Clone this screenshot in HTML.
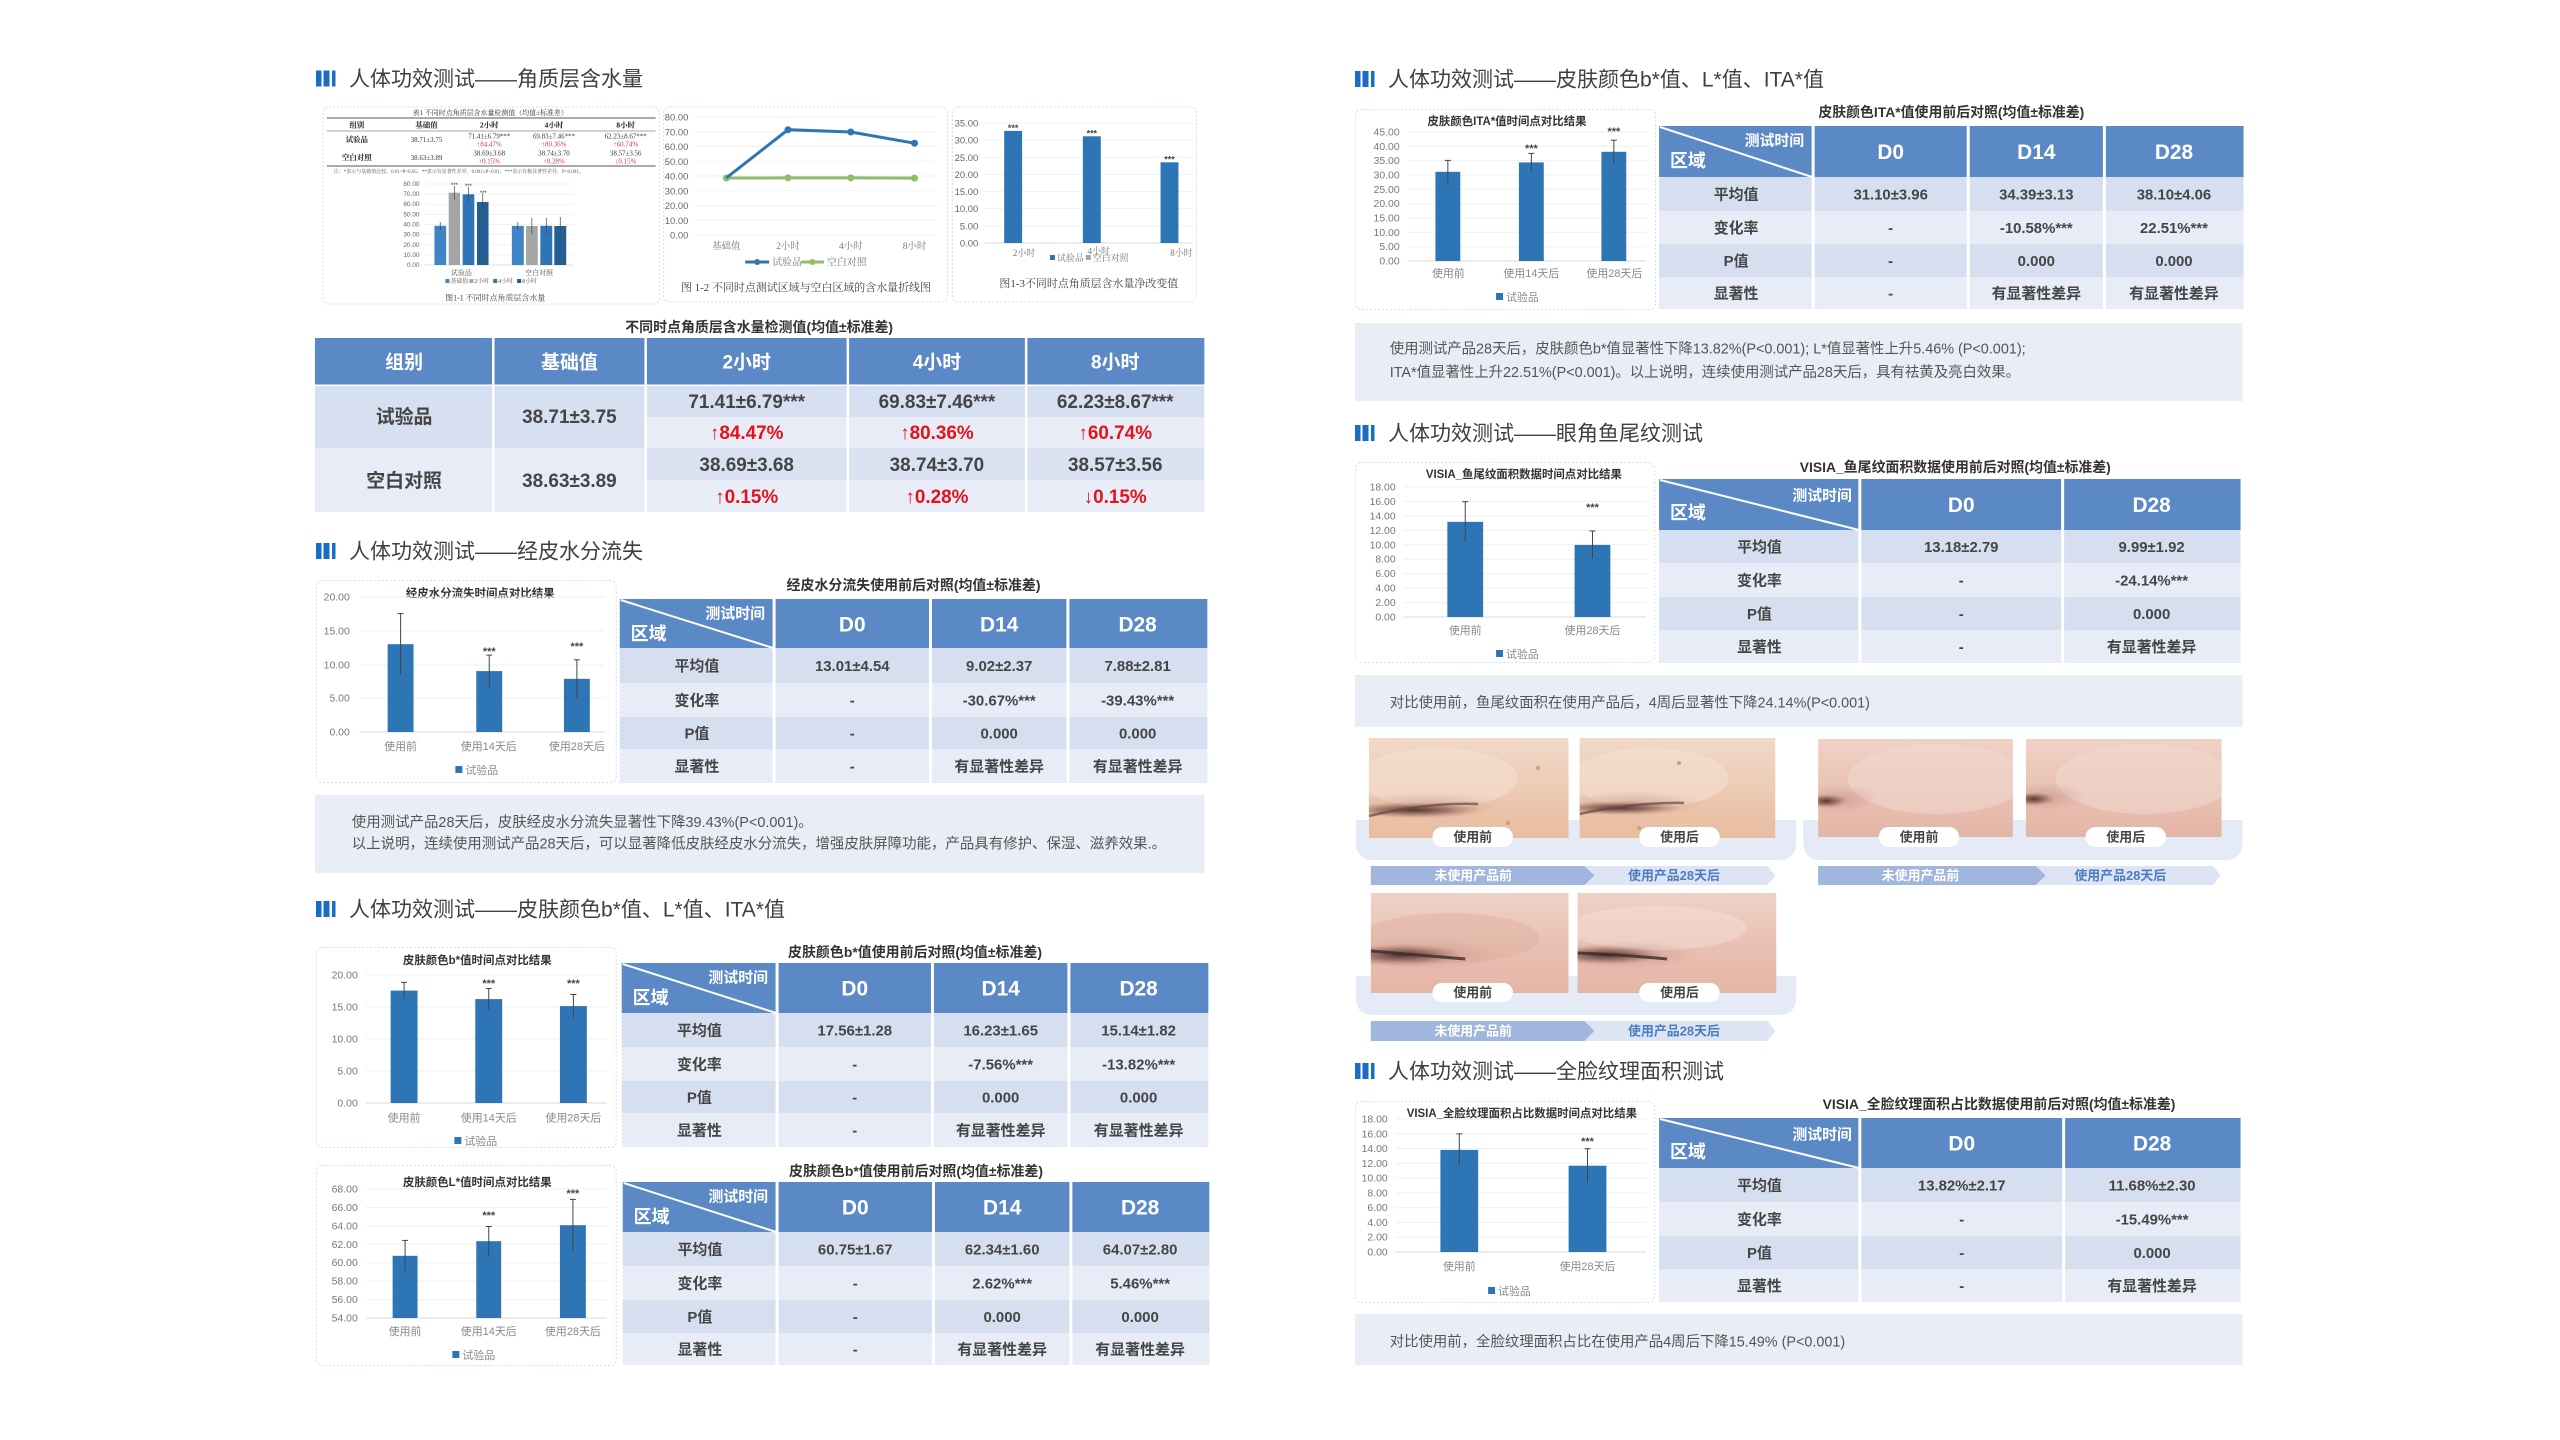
<!DOCTYPE html>
<html><head><meta charset="utf-8"><title>人体功效测试</title>
<style>
html,body{margin:0;padding:0;background:#fff;width:2560px;height:1440px;overflow:hidden}
svg text{font-family:"Liberation Sans","Noto Sans CJK SC",sans-serif}
svg text.sf{font-family:"Liberation Serif","Noto Serif CJK SC","Noto Sans CJK SC",serif}
.ttl{font-size:21px;fill:#3f3f3f}
.cap{font-size:14px;font-weight:bold;fill:#333;text-anchor:middle}
.h1{font-size:19px;font-weight:bold;fill:#fff;text-anchor:middle}
.v1{font-size:19px;font-weight:bold;fill:#454545;text-anchor:middle}
.r1{font-size:19px;font-weight:bold;fill:#e3121b;text-anchor:middle}
.hd{font-size:21px;font-weight:bold;fill:#fff;text-anchor:middle}
.ht{font-size:15px;font-weight:bold;fill:#fff;text-anchor:end}
.hq{font-size:18px;font-weight:bold;fill:#fff}
.c{font-size:15px;font-weight:bold;fill:#454545;text-anchor:middle}
.note{font-size:14.5px;fill:#555}
.ct{font-size:11.5px;font-weight:bold;fill:#333;text-anchor:middle}
.ax{font-size:10.5px;fill:#777;text-anchor:end}
.xl{font-size:11px;fill:#888;text-anchor:middle}
.st{font-size:11px;fill:#444;text-anchor:middle;font-weight:bold}
.lg{font-size:11px;fill:#888}
.pill{font-size:13px;fill:#444;text-anchor:middle;font-weight:bold}
.bn{font-size:13px;font-weight:bold;text-anchor:middle}
.m7{font-size:7px;fill:#333;text-anchor:middle}
.m7b{font-size:7.5px;fill:#222;text-anchor:middle;font-weight:bold}
.m7r{font-size:7px;fill:#d23a4a;text-anchor:middle}
.ax9{font-size:9.5px;fill:#666;text-anchor:end}
.ax6{font-size:6.5px;fill:#666;text-anchor:end}
</style></head>
<body>
<svg width="2560" height="1440" viewBox="0 0 2560 1440" xmlns="http://www.w3.org/2000/svg">
<defs>
<linearGradient id="skA" x1="0" y1="0" x2="0" y2="1"><stop offset="0" stop-color="#f1d9c9"/><stop offset="0.5" stop-color="#edcbb4"/><stop offset="1" stop-color="#e8bca0"/></linearGradient>
<linearGradient id="skB" x1="0" y1="0" x2="0" y2="1"><stop offset="0" stop-color="#efd2c6"/><stop offset="0.5" stop-color="#e9c2b4"/><stop offset="1" stop-color="#e4b5a6"/></linearGradient>
<radialGradient id="eye"><stop offset="0" stop-color="#4a2e2c" stop-opacity="0.95"/><stop offset="0.5" stop-color="#7a5048" stop-opacity="0.6"/><stop offset="1" stop-color="#b88070" stop-opacity="0"/></radialGradient>
<radialGradient id="shade"><stop offset="0" stop-color="#b98a7c" stop-opacity="0.5"/><stop offset="1" stop-color="#b98a7c" stop-opacity="0"/></radialGradient>
</defs>

<!-- ============ TITLES ============ -->
<g fill="#1a6dc2">
<rect x="316" y="70.5" width="5.5" height="16"/><rect x="323.5" y="70.5" width="6" height="16"/><rect x="332" y="70.5" width="3.5" height="16"/>
<rect x="316" y="543" width="5.5" height="16"/><rect x="323.5" y="543" width="6" height="16"/><rect x="332" y="543" width="3.5" height="16"/>
<rect x="316" y="901" width="5.5" height="16"/><rect x="323.5" y="901" width="6" height="16"/><rect x="332" y="901" width="3.5" height="16"/>
<rect x="1355" y="71" width="5.5" height="16"/><rect x="1362.5" y="71" width="6" height="16"/><rect x="1371" y="71" width="3.5" height="16"/>
<rect x="1355" y="425" width="5.5" height="16"/><rect x="1362.5" y="425" width="6" height="16"/><rect x="1371" y="425" width="3.5" height="16"/>
<rect x="1355" y="1063" width="5.5" height="16"/><rect x="1362.5" y="1063" width="6" height="16"/><rect x="1371" y="1063" width="3.5" height="16"/>
</g>
<text class="ttl" x="349" y="86">人体功效测试——角质层含水量</text>
<text class="ttl" x="349" y="558.5">人体功效测试——经皮水分流失</text>
<text class="ttl" x="349" y="916.5">人体功效测试——皮肤颜色b*值、L*值、ITA*值</text>
<text class="ttl" x="1388" y="86.5">人体功效测试——皮肤颜色b*值、L*值、ITA*值</text>
<text class="ttl" x="1388" y="440.5">人体功效测试——眼角鱼尾纹测试</text>
<text class="ttl" x="1388" y="1078.5">人体功效测试——全脸纹理面积测试</text>

<g transform="matrix(0.996 0 0 1 1.2 0)">
<!-- ============ SECTION 1 PANELS ============ -->
<g fill="none" stroke="#cfe0ea" stroke-dasharray="2 2">
<rect x="323" y="107" width="338" height="197" rx="6"/>
<rect x="665" y="107" width="285" height="195" rx="6"/>
<rect x="955" y="107" width="245" height="195" rx="6"/>
</g>
<!-- panel 1 mini table -->
<text class="m7 sf" x="491" y="115">表1 不同时点角质层含水量检测值（均值±标准差）</text>
<line x1="327" y1="118" x2="657" y2="118" stroke="#777" stroke-width="1.3"/>
<line x1="327" y1="131" x2="657" y2="131" stroke="#888" stroke-width="0.8"/>
<line x1="327" y1="166" x2="657" y2="166" stroke="#777" stroke-width="1.3"/>
<text class="m7b sf" x="357" y="127.5">组别</text><text class="m7b sf" x="427" y="127.5">基础值</text><text class="m7b sf" x="490" y="127.5">2小时</text><text class="m7b sf" x="555" y="127.5">4小时</text><text class="m7b sf" x="627" y="127.5">8小时</text>
<text class="m7b sf" x="357" y="142">试验品</text><text class="m7 sf" x="427" y="142">38.71±3.75</text>
<text class="m7 sf" x="490" y="138.5">71.41±6.79***</text><text class="m7r sf" x="490" y="146.5">↑84.47%</text>
<text class="m7 sf" x="555" y="138.5">69.83±7.46***</text><text class="m7r sf" x="555" y="146.5">↑80.36%</text>
<text class="m7 sf" x="627" y="138.5">62.23±8.67***</text><text class="m7r sf" x="627" y="146.5">↑60.74%</text>
<text class="m7b sf" x="357" y="160">空白对照</text><text class="m7 sf" x="427" y="160">38.63±3.89</text>
<text class="m7 sf" x="490" y="155.5">38.69±3.68</text><text class="m7r sf" x="490" y="163.5">↑0.15%</text>
<text class="m7 sf" x="555" y="155.5">38.74±3.70</text><text class="m7r sf" x="555" y="163.5">↑0.28%</text>
<text class="m7 sf" x="627" y="155.5">38.57±3.56</text><text class="m7r sf" x="627" y="163.5">↓0.15%</text>
<text class="sf" x="334" y="173" style="font-size:5px;fill:#555">注：*表示与基础值比较，0.01&lt;P&lt;0.05；**表示有显著性差异，0.001≤P&lt;0.01；***表示有极显著性差异，P&lt;0.001。</text>
<!-- panel 1 mini bar chart -->
<g stroke="#eeeeee" stroke-width="0.7">
<line x1="425" y1="184" x2="575" y2="184"/><line x1="425" y1="194.1" x2="575" y2="194.1"/><line x1="425" y1="204.3" x2="575" y2="204.3"/><line x1="425" y1="214.4" x2="575" y2="214.4"/><line x1="425" y1="224.5" x2="575" y2="224.5"/><line x1="425" y1="234.6" x2="575" y2="234.6"/><line x1="425" y1="244.8" x2="575" y2="244.8"/><line x1="425" y1="254.9" x2="575" y2="254.9"/>
</g>
<line x1="425" y1="265" x2="575" y2="265" stroke="#d9d9d9" stroke-width="0.8"/>
<text class="ax6" x="420" y="186">80.00</text><text class="ax6" x="420" y="196">70.00</text><text class="ax6" x="420" y="206">60.00</text><text class="ax6" x="420" y="216.5">50.00</text><text class="ax6" x="420" y="226.5">40.00</text><text class="ax6" x="420" y="236.5">30.00</text><text class="ax6" x="420" y="247">20.00</text><text class="ax6" x="420" y="257">10.00</text><text class="ax6" x="420" y="267">0.00</text>
<rect x="435" y="225.8" width="11.7" height="39.2" fill="#3d85c6"/>
<rect x="449.3" y="192.7" width="11.4" height="72.3" fill="#a5a5a5"/>
<rect x="463.3" y="194.3" width="11.7" height="70.7" fill="#2e75b6"/>
<rect x="477.7" y="202" width="11.6" height="63" fill="#255e91"/>
<rect x="512.7" y="225.9" width="12" height="39.1" fill="#3d85c6"/>
<rect x="527" y="226" width="11.7" height="39" fill="#a5a5a5"/>
<rect x="541.3" y="225.8" width="12" height="39.2" fill="#2e75b6"/>
<rect x="555.3" y="226" width="12" height="39" fill="#255e91"/>
<g stroke="#444" stroke-width="0.7">
<line x1="440.8" y1="222" x2="440.8" y2="230"/><line x1="455" y1="186" x2="455" y2="199.5"/><line x1="469" y1="186.8" x2="469" y2="201.8"/><line x1="483.5" y1="193.2" x2="483.5" y2="210.8"/>
<line x1="518.7" y1="222" x2="518.7" y2="230"/><line x1="532.8" y1="218" x2="532.8" y2="234"/><line x1="547.3" y1="218" x2="547.3" y2="234"/><line x1="561.3" y1="217" x2="561.3" y2="235"/>
</g>
<text x="455" y="187" style="font-size:6px;fill:#333;text-anchor:middle">***</text><text x="469" y="188" style="font-size:6px;fill:#333;text-anchor:middle">***</text><text x="484" y="195" style="font-size:6px;fill:#333;text-anchor:middle">***</text>
<text class="m7 sf" x="462" y="275" style="fill:#555">试验品</text><text class="m7 sf" x="540" y="275" style="fill:#555">空白对照</text>
<rect x="446" y="279" width="4" height="4" fill="#3d85c6"/><text class="sf" x="451" y="283" style="font-size:6px;fill:#555">基础值</text>
<rect x="470" y="279" width="4" height="4" fill="#a5a5a5"/><text class="sf" x="475" y="283" style="font-size:6px;fill:#555">2小时</text>
<rect x="494" y="279" width="4" height="4" fill="#2e75b6"/><text class="sf" x="499" y="283" style="font-size:6px;fill:#555">4小时</text>
<rect x="518" y="279" width="4" height="4" fill="#255e91"/><text class="sf" x="523" y="283" style="font-size:6px;fill:#555">8小时</text>
<text class="sf" x="496" y="300.5" style="font-size:8px;fill:#444;text-anchor:middle">图1-1 不同时点角质层含水量</text>

<!-- panel 2 line chart -->
<g stroke="#eeeeee" stroke-width="0.8">
<line x1="695" y1="117" x2="939" y2="117"/><line x1="695" y1="131.75" x2="939" y2="131.75"/><line x1="695" y1="146.5" x2="939" y2="146.5"/><line x1="695" y1="161.25" x2="939" y2="161.25"/><line x1="695" y1="176" x2="939" y2="176"/><line x1="695" y1="190.75" x2="939" y2="190.75"/><line x1="695" y1="205.5" x2="939" y2="205.5"/><line x1="695" y1="220.25" x2="939" y2="220.25"/><line x1="695" y1="235" x2="939" y2="235"/>
</g>
<text class="ax9" x="690" y="120.5">80.00</text><text class="ax9" x="690" y="135.3">70.00</text><text class="ax9" x="690" y="150">60.00</text><text class="ax9" x="690" y="164.8">50.00</text><text class="ax9" x="690" y="179.5">40.00</text><text class="ax9" x="690" y="194.3">30.00</text><text class="ax9" x="690" y="209">20.00</text><text class="ax9" x="690" y="223.8">10.00</text><text class="ax9" x="690" y="238.5">0.00</text>
<polyline points="728,178 790,177.9 853,177.9 917,178.1" fill="none" stroke="#8fbd6a" stroke-width="3"/>
<g fill="#8fbd6a"><circle cx="728" cy="178" r="3.5"/><circle cx="790" cy="177.9" r="3.5"/><circle cx="853" cy="177.9" r="3.5"/><circle cx="917" cy="178.1" r="3.5"/></g>
<polyline points="728,177.9 790,129.7 853,132 917,143.2" fill="none" stroke="#2e75b6" stroke-width="3"/>
<g fill="#2e75b6"><circle cx="790" cy="129.7" r="3.5"/><circle cx="853" cy="132" r="3.5"/><circle cx="917" cy="143.2" r="3.5"/></g>
<g style="font-size:9.5px;fill:#777">
<text class="sf" x="728" y="249" style="text-anchor:middle">基础值</text><text class="sf" x="790" y="249" style="text-anchor:middle">2小时</text><text class="sf" x="853" y="249" style="text-anchor:middle">4小时</text><text class="sf" x="917" y="249" style="text-anchor:middle">8小时</text>
</g>
<line x1="747" y1="262" x2="771" y2="262" stroke="#2e75b6" stroke-width="3"/><circle cx="759" cy="262" r="3" fill="#2e75b6"/>
<text class="sf" x="774" y="265.5" style="font-size:10px;fill:#777">试验品</text>
<line x1="803" y1="262" x2="826" y2="262" stroke="#8fbd6a" stroke-width="3"/><circle cx="814.5" cy="262" r="3" fill="#8fbd6a"/>
<text class="sf" x="829" y="265.5" style="font-size:10px;fill:#777">空白对照</text>
<text class="sf" x="808" y="291" style="font-size:11px;fill:#444;text-anchor:middle">图 1-2  不同时点测试区域与空白区域的含水量折线图</text>

<!-- panel 3 bar chart -->
<g stroke="#eeeeee" stroke-width="0.8">
<line x1="986" y1="123" x2="1196" y2="123"/><line x1="986" y1="140.1" x2="1196" y2="140.1"/><line x1="986" y1="157.3" x2="1196" y2="157.3"/><line x1="986" y1="174.4" x2="1196" y2="174.4"/><line x1="986" y1="191.6" x2="1196" y2="191.6"/><line x1="986" y1="208.7" x2="1196" y2="208.7"/><line x1="986" y1="225.9" x2="1196" y2="225.9"/>
</g>
<line x1="986" y1="243" x2="1196" y2="243" stroke="#d9d9d9"/>
<text class="ax9" x="981" y="126.5">35.00</text><text class="ax9" x="981" y="143.6">30.00</text><text class="ax9" x="981" y="160.8">25.00</text><text class="ax9" x="981" y="177.9">20.00</text><text class="ax9" x="981" y="195.1">15.00</text><text class="ax9" x="981" y="212.2">10.00</text><text class="ax9" x="981" y="229.4">5.00</text><text class="ax9" x="981" y="246.5">0.00</text>
<rect x="1007" y="130.9" width="18" height="112.1" fill="#2e75b6"/>
<rect x="1086" y="136.3" width="18" height="106.7" fill="#2e75b6"/>
<rect x="1164" y="162.3" width="18" height="80.7" fill="#2e75b6"/>
<text class="st" x="1016" y="131" style="font-size:9px">***</text><text class="st" x="1095" y="136.5" style="font-size:9px">***</text><text class="st" x="1173" y="162.5" style="font-size:9px">***</text>
<text class="sf" x="1027" y="256" style="font-size:9px;fill:#777;text-anchor:middle">2小时</text>
<text class="sf" x="1102" y="254" style="font-size:9px;fill:#777;text-anchor:middle">4小时</text>
<text class="sf" x="1185" y="256" style="font-size:9px;fill:#777;text-anchor:middle">8小时</text>
<rect x="1053" y="255" width="5" height="5" fill="#2e75b6"/><text class="sf" x="1060" y="261" style="font-size:9px;fill:#777">试验品</text>
<rect x="1089" y="255" width="5" height="5" fill="#a5a5a5"/><text class="sf" x="1096" y="261" style="font-size:9px;fill:#777">空白对照</text>
<text class="sf" x="1092" y="287" style="font-size:11px;fill:#444;text-anchor:middle">图1-3不同时点角质层含水量净改变值</text>

<!-- ============ TABLE 1 ============ -->
<text class="cap" x="761" y="332">不同时点角质层含水量检测值(均值±标准差)</text>
<rect x="315" y="338" width="893" height="47" fill="#5b89c6"/>
<rect x="315" y="385" width="332" height="63" fill="#d7e0f0"/>
<rect x="315" y="448" width="332" height="64" fill="#e7ecf6"/>
<rect x="647" y="385" width="561" height="32" fill="#d7e0f0"/>
<rect x="647" y="417" width="561" height="31" fill="#e8ecf6"/>
<rect x="647" y="448" width="561" height="32" fill="#dae2f1"/>
<rect x="647" y="480" width="561" height="32" fill="#e9edf7"/>
<rect x="315" y="384.5" width="893" height="1.5" fill="#fff"/>
<g fill="#fff"><rect x="492.8" y="338" width="2.5" height="174"/><rect x="645.8" y="338" width="2.5" height="174"/><rect x="848.8" y="338" width="2.5" height="174"/><rect x="1027.8" y="338" width="2.5" height="174"/></g>
<text class="h1" x="404.5" y="368.5">组别</text><text class="h1" x="570.5" y="368.5">基础值</text><text class="h1" x="748.5" y="368.5">2小时</text><text class="h1" x="939.5" y="368.5">4小时</text><text class="h1" x="1118.5" y="368.5">8小时</text>
<text class="v1" x="404.5" y="423">试验品</text><text class="v1" x="570.5" y="423">38.71±3.75</text>
<text class="v1" x="404.5" y="487">空白对照</text><text class="v1" x="570.5" y="487">38.63±3.89</text>
<text class="v1" x="748.5" y="408">71.41±6.79***</text><text class="r1" x="748.5" y="439">↑84.47%</text><text class="v1" x="748.5" y="471">38.69±3.68</text><text class="r1" x="748.5" y="503">↑0.15%</text>
<text class="v1" x="939.5" y="408">69.83±7.46***</text><text class="r1" x="939.5" y="439">↑80.36%</text><text class="v1" x="939.5" y="471">38.74±3.70</text><text class="r1" x="939.5" y="503">↑0.28%</text>
<text class="v1" x="1118.5" y="408">62.23±8.67***</text><text class="r1" x="1118.5" y="439">↑60.74%</text><text class="v1" x="1118.5" y="471">38.57±3.56</text><text class="r1" x="1118.5" y="503">↓0.15%</text>

<!-- ============ SECTION 2 CHART ============ -->
<rect x="316.5" y="580.5" width="301" height="202" rx="6" fill="none" stroke="#cfe0ea" stroke-dasharray="2 2"/>
<text class="ct" x="481" y="597">经皮水分流失时间点对比结果</text>
<g stroke="#efefef"><line x1="360" y1="597" x2="606" y2="597"/><line x1="360" y1="631" x2="606" y2="631"/><line x1="360" y1="665" x2="606" y2="665"/><line x1="360" y1="698" x2="606" y2="698"/></g>
<line x1="360" y1="732" x2="606" y2="732" stroke="#d9d9d9"/>
<text class="ax" x="350" y="600.5">20.00</text><text class="ax" x="350" y="634.5">15.00</text><text class="ax" x="350" y="668.5">10.00</text><text class="ax" x="350" y="701.5">5.00</text><text class="ax" x="350" y="735.5">0.00</text>
<g fill="#2e75b6"><rect x="388" y="644.2" width="26" height="87.8"/><rect x="477" y="671.1" width="26" height="60.9"/><rect x="565" y="678.8" width="26" height="53.2"/></g>
<g stroke="#444" stroke-width="1"><line x1="401" y1="613.6" x2="401" y2="674.8"/><line x1="398" y1="613.6" x2="404" y2="613.6"/><line x1="490" y1="655.1" x2="490" y2="687.1"/><line x1="487" y1="655.1" x2="493" y2="655.1"/><line x1="578" y1="659.8" x2="578" y2="697.8"/><line x1="575" y1="659.8" x2="581" y2="659.8"/></g>
<text class="st" x="490" y="655">***</text><text class="st" x="578" y="650">***</text>
<text class="xl" x="401" y="750">使用前</text><text class="xl" x="489.5" y="750">使用14天后</text><text class="xl" x="578" y="750">使用28天后</text>
<rect x="456" y="766" width="7" height="7" fill="#2e75b6"/><text class="lg" x="466" y="774">试验品</text>

<!-- ============ TABLE L2 ============ -->
<text class="cap" x="916" y="590">经皮水分流失使用前后对照(均值±标准差)</text>
<rect x="621" y="599" width="590" height="49" fill="#5b89c6"/>
<rect x="621" y="648" width="590" height="35" fill="#d6dff0"/><rect x="621" y="683" width="590" height="34" fill="#e8ecf6"/><rect x="621" y="717" width="590" height="32" fill="#d6dff0"/><rect x="621" y="749" width="590" height="34" fill="#e8ecf6"/>
<g fill="#fff"><rect x="774.5" y="599" width="3" height="184"/><rect x="931.5" y="599" width="3" height="184"/><rect x="1069.5" y="599" width="3" height="184"/></g>
<line x1="622" y1="600" x2="775" y2="648" stroke="#fff" stroke-width="2"/>
<text class="ht" x="767" y="618.5">测试时间</text><text class="hq" x="632" y="640">区域</text>
<text class="hd" x="854.5" y="631.5">D0</text><text class="hd" x="1002" y="631.5">D14</text><text class="hd" x="1141" y="631.5">D28</text>
<text class="c" x="698.5" y="671">平均值</text><text class="c" x="854.5" y="671">13.01±4.54</text><text class="c" x="1002" y="671">9.02±2.37</text><text class="c" x="1141" y="671">7.88±2.81</text>
<text class="c" x="698.5" y="705.5">变化率</text><text class="c" x="854.5" y="705.5">-</text><text class="c" x="1002" y="705.5">-30.67%***</text><text class="c" x="1141" y="705.5">-39.43%***</text>
<text class="c" x="698.5" y="738.5">P值</text><text class="c" x="854.5" y="738.5">-</text><text class="c" x="1002" y="738.5">0.000</text><text class="c" x="1141" y="738.5">0.000</text>
<text class="c" x="698.5" y="771.5">显著性</text><text class="c" x="854.5" y="771.5">-</text><text class="c" x="1002" y="771.5">有显著性差异</text><text class="c" x="1141" y="771.5">有显著性差异</text>

<!-- note L2 -->
<rect x="315" y="795" width="893" height="78" fill="#e9edf6"/>
<text class="note" x="352" y="827">使用测试产品28天后，皮肤经皮水分流失显著性下降39.43%(P&lt;0.001)。</text>
<text class="note" x="352" y="848.5">以上说明，连续使用测试产品28天后，可以显著降低皮肤经皮水分流失，增强皮肤屏障功能，产品具有修护、保湿、滋养效果.。</text>

<!-- ============ SECTION 3: b* chart ============ -->
<rect x="316.5" y="947.5" width="301" height="200" rx="6" fill="none" stroke="#cfe0ea" stroke-dasharray="2 2"/>
<text class="ct" x="478" y="964">皮肤颜色b*值时间点对比结果</text>
<g stroke="#efefef"><line x1="366" y1="975" x2="608" y2="975"/><line x1="366" y1="1007" x2="608" y2="1007"/><line x1="366" y1="1039" x2="608" y2="1039"/><line x1="366" y1="1071" x2="608" y2="1071"/></g>
<line x1="366" y1="1103" x2="608" y2="1103" stroke="#d9d9d9"/>
<text class="ax" x="358" y="978.5">20.00</text><text class="ax" x="358" y="1010.5">15.00</text><text class="ax" x="358" y="1042.5">10.00</text><text class="ax" x="358" y="1074.5">5.00</text><text class="ax" x="358" y="1106.5">0.00</text>
<g fill="#2e75b6"><rect x="391" y="990.6" width="27" height="112.4"/><rect x="476" y="999.1" width="27" height="103.9"/><rect x="561" y="1006.1" width="27" height="96.9"/></g>
<g stroke="#444" stroke-width="1"><line x1="404.5" y1="982.4" x2="404.5" y2="998.8"/><line x1="401.5" y1="982.4" x2="407.5" y2="982.4"/><line x1="489.5" y1="988.5" x2="489.5" y2="1009.7"/><line x1="486.5" y1="988.5" x2="492.5" y2="988.5"/><line x1="574.5" y1="994.5" x2="574.5" y2="1017.7"/><line x1="571.5" y1="994.5" x2="577.5" y2="994.5"/></g>
<text class="st" x="489.5" y="987">***</text><text class="st" x="574.5" y="987">***</text>
<text class="xl" x="404.5" y="1121.5">使用前</text><text class="xl" x="489.5" y="1121.5">使用14天后</text><text class="xl" x="574.5" y="1121.5">使用28天后</text>
<rect x="455" y="1137" width="7" height="7" fill="#2e75b6"/><text class="lg" x="465" y="1145">试验品</text>

<!-- TABLE L3a -->
<text class="cap" x="917.5" y="957">皮肤颜色b*值使用前后对照(均值±标准差)</text>
<rect x="623" y="963" width="589" height="50" fill="#5b89c6"/>
<rect x="623" y="1013" width="589" height="34" fill="#d6dff0"/><rect x="623" y="1047" width="589" height="34" fill="#e8ecf6"/><rect x="623" y="1081" width="589" height="32" fill="#d6dff0"/><rect x="623" y="1113" width="589" height="34" fill="#e8ecf6"/>
<g fill="#fff"><rect x="777.5" y="963" width="3" height="184"/><rect x="933.5" y="963" width="3" height="184"/><rect x="1070.5" y="963" width="3" height="184"/></g>
<line x1="624" y1="964" x2="778" y2="1013" stroke="#fff" stroke-width="2"/>
<text class="ht" x="770" y="982.5">测试时间</text><text class="hq" x="634" y="1004">区域</text>
<text class="hd" x="857" y="995.5">D0</text><text class="hd" x="1003.5" y="995.5">D14</text><text class="hd" x="1142" y="995.5">D28</text>
<text class="c" x="701" y="1035.5">平均值</text><text class="c" x="857" y="1035.5">17.56±1.28</text><text class="c" x="1003.5" y="1035.5">16.23±1.65</text><text class="c" x="1142" y="1035.5">15.14±1.82</text>
<text class="c" x="701" y="1069.5">变化率</text><text class="c" x="857" y="1069.5">-</text><text class="c" x="1003.5" y="1069.5">-7.56%***</text><text class="c" x="1142" y="1069.5">-13.82%***</text>
<text class="c" x="701" y="1102.5">P值</text><text class="c" x="857" y="1102.5">-</text><text class="c" x="1003.5" y="1102.5">0.000</text><text class="c" x="1142" y="1102.5">0.000</text>
<text class="c" x="701" y="1135.5">显著性</text><text class="c" x="857" y="1135.5">-</text><text class="c" x="1003.5" y="1135.5">有显著性差异</text><text class="c" x="1142" y="1135.5">有显著性差异</text>

<!-- L* chart -->
<rect x="316.5" y="1165.5" width="301" height="200" rx="6" fill="none" stroke="#cfe0ea" stroke-dasharray="2 2"/>
<text class="ct" x="478" y="1186">皮肤颜色L*值时间点对比结果</text>
<g stroke="#efefef"><line x1="366" y1="1189" x2="608" y2="1189"/><line x1="366" y1="1207.4" x2="608" y2="1207.4"/><line x1="366" y1="1225.9" x2="608" y2="1225.9"/><line x1="366" y1="1244.3" x2="608" y2="1244.3"/><line x1="366" y1="1262.7" x2="608" y2="1262.7"/><line x1="366" y1="1281.1" x2="608" y2="1281.1"/><line x1="366" y1="1299.6" x2="608" y2="1299.6"/></g>
<line x1="366" y1="1318" x2="608" y2="1318" stroke="#d9d9d9"/>
<text class="ax" x="358" y="1192.5">68.00</text><text class="ax" x="358" y="1211">66.00</text><text class="ax" x="358" y="1229.4">64.00</text><text class="ax" x="358" y="1247.8">62.00</text><text class="ax" x="358" y="1266.2">60.00</text><text class="ax" x="358" y="1284.6">58.00</text><text class="ax" x="358" y="1303.1">56.00</text><text class="ax" x="358" y="1321.5">54.00</text>
<g fill="#2e75b6"><rect x="393" y="1255.8" width="25" height="62.2"/><rect x="477" y="1241.2" width="25" height="76.8"/><rect x="561" y="1225.2" width="26" height="92.8"/></g>
<g stroke="#444" stroke-width="1"><line x1="405.5" y1="1240.4" x2="405.5" y2="1271.2"/><line x1="402.5" y1="1240.4" x2="408.5" y2="1240.4"/><line x1="489.5" y1="1226.5" x2="489.5" y2="1255.9"/><line x1="486.5" y1="1226.5" x2="492.5" y2="1226.5"/><line x1="574" y1="1199.4" x2="574" y2="1251"/><line x1="571" y1="1199.4" x2="577" y2="1199.4"/></g>
<text class="st" x="489.5" y="1219">***</text><text class="st" x="574" y="1197">***</text>
<text class="xl" x="405.5" y="1335">使用前</text><text class="xl" x="489.5" y="1335">使用14天后</text><text class="xl" x="574" y="1335">使用28天后</text>
<rect x="453" y="1351" width="7" height="7" fill="#2e75b6"/><text class="lg" x="463" y="1359">试验品</text>

<!-- TABLE L3b -->
<text class="cap" x="918.5" y="1176">皮肤颜色b*值使用前后对照(均值±标准差)</text>
<rect x="624" y="1182" width="589" height="50" fill="#5b89c6"/>
<rect x="624" y="1232" width="589" height="34" fill="#d6dff0"/><rect x="624" y="1266" width="589" height="34" fill="#e8ecf6"/><rect x="624" y="1300" width="589" height="33" fill="#d6dff0"/><rect x="624" y="1333" width="589" height="32" fill="#e8ecf6"/>
<g fill="#fff"><rect x="777.5" y="1182" width="3" height="183"/><rect x="934.5" y="1182" width="3" height="183"/><rect x="1072.5" y="1182" width="3" height="183"/></g>
<line x1="625" y1="1183" x2="778" y2="1232" stroke="#fff" stroke-width="2"/>
<text class="ht" x="770" y="1201.5">测试时间</text><text class="hq" x="635" y="1223">区域</text>
<text class="hd" x="857.5" y="1214.5">D0</text><text class="hd" x="1005" y="1214.5">D14</text><text class="hd" x="1143.5" y="1214.5">D28</text>
<text class="c" x="701.5" y="1254.5">平均值</text><text class="c" x="857.5" y="1254.5">60.75±1.67</text><text class="c" x="1005" y="1254.5">62.34±1.60</text><text class="c" x="1143.5" y="1254.5">64.07±2.80</text>
<text class="c" x="701.5" y="1288.5">变化率</text><text class="c" x="857.5" y="1288.5">-</text><text class="c" x="1005" y="1288.5">2.62%***</text><text class="c" x="1143.5" y="1288.5">5.46%***</text>
<text class="c" x="701.5" y="1322">P值</text><text class="c" x="857.5" y="1322">-</text><text class="c" x="1005" y="1322">0.000</text><text class="c" x="1143.5" y="1322">0.000</text>
<text class="c" x="701.5" y="1354.5">显著性</text><text class="c" x="857.5" y="1354.5">-</text><text class="c" x="1005" y="1354.5">有显著性差异</text><text class="c" x="1143.5" y="1354.5">有显著性差异</text>
</g>

<g transform="matrix(0.994 0 0 1 8.04 0)">
<!-- ============ RIGHT: ITA chart ============ -->
<rect x="1355.5" y="109.5" width="302" height="200" rx="6" fill="none" stroke="#cfe0ea" stroke-dasharray="2 2"/>
<text class="ct" x="1508" y="125">皮肤颜色ITA*值时间点对比结果</text>
<g stroke="#efefef"><line x1="1408" y1="132" x2="1648" y2="132"/><line x1="1408" y1="146.3" x2="1648" y2="146.3"/><line x1="1408" y1="160.7" x2="1648" y2="160.7"/><line x1="1408" y1="175" x2="1648" y2="175"/><line x1="1408" y1="189.3" x2="1648" y2="189.3"/><line x1="1408" y1="203.7" x2="1648" y2="203.7"/><line x1="1408" y1="218" x2="1648" y2="218"/><line x1="1408" y1="232.3" x2="1648" y2="232.3"/><line x1="1408" y1="246.7" x2="1648" y2="246.7"/></g>
<line x1="1408" y1="261" x2="1648" y2="261" stroke="#d9d9d9"/>
<text class="ax" x="1400" y="135.5">45.00</text><text class="ax" x="1400" y="149.8">40.00</text><text class="ax" x="1400" y="164.2">35.00</text><text class="ax" x="1400" y="178.5">30.00</text><text class="ax" x="1400" y="192.8">25.00</text><text class="ax" x="1400" y="207.2">20.00</text><text class="ax" x="1400" y="221.5">15.00</text><text class="ax" x="1400" y="235.8">10.00</text><text class="ax" x="1400" y="250.2">5.00</text><text class="ax" x="1400" y="264.5">0.00</text>
<g fill="#2e75b6"><rect x="1436" y="171.8" width="25" height="89.2"/><rect x="1520" y="162.4" width="25" height="98.6"/><rect x="1603" y="151.8" width="25" height="109.2"/></g>
<g stroke="#444" stroke-width="1"><line x1="1448.5" y1="160.4" x2="1448.5" y2="183.2"/><line x1="1445.5" y1="160.4" x2="1451.5" y2="160.4"/><line x1="1532.5" y1="153.4" x2="1532.5" y2="171.4"/><line x1="1529.5" y1="153.4" x2="1535.5" y2="153.4"/><line x1="1615.5" y1="140.2" x2="1615.5" y2="163.4"/><line x1="1612.5" y1="140.2" x2="1618.5" y2="140.2"/></g>
<text class="st" x="1532.5" y="152">***</text><text class="st" x="1615.5" y="135">***</text>
<text class="xl" x="1449" y="277">使用前</text><text class="xl" x="1532.5" y="277">使用14天后</text><text class="xl" x="1616" y="277">使用28天后</text>
<rect x="1497" y="293" width="7" height="7" fill="#2e75b6"/><text class="lg" x="1507" y="301">试验品</text>

<!-- TABLE R1 -->
<text class="cap" x="1955" y="117">皮肤颜色ITA*值使用前后对照(均值±标准差)</text>
<rect x="1661" y="126" width="588" height="51" fill="#5b89c6"/>
<rect x="1661" y="177" width="588" height="34" fill="#d6dff0"/><rect x="1661" y="211" width="588" height="33" fill="#e8ecf6"/><rect x="1661" y="244" width="588" height="33" fill="#d6dff0"/><rect x="1661" y="277" width="588" height="32" fill="#e8ecf6"/>
<g fill="#fff"><rect x="1814.5" y="126" width="3" height="183"/><rect x="1970.5" y="126" width="3" height="183"/><rect x="2107.5" y="126" width="3" height="183"/></g>
<line x1="1662" y1="127" x2="1815" y2="177" stroke="#fff" stroke-width="2"/>
<text class="ht" x="1807" y="145.5">测试时间</text><text class="hq" x="1672" y="167">区域</text>
<text class="hd" x="1894" y="159">D0</text><text class="hd" x="2040.5" y="159">D14</text><text class="hd" x="2179" y="159">D28</text>
<text class="c" x="1738.5" y="199.5">平均值</text><text class="c" x="1894" y="199.5">31.10±3.96</text><text class="c" x="2040.5" y="199.5">34.39±3.13</text><text class="c" x="2179" y="199.5">38.10±4.06</text>
<text class="c" x="1738.5" y="233">变化率</text><text class="c" x="1894" y="233">-</text><text class="c" x="2040.5" y="233">-10.58%***</text><text class="c" x="2179" y="233">22.51%***</text>
<text class="c" x="1738.5" y="266">P值</text><text class="c" x="1894" y="266">-</text><text class="c" x="2040.5" y="266">0.000</text><text class="c" x="2179" y="266">0.000</text>
<text class="c" x="1738.5" y="298.5">显著性</text><text class="c" x="1894" y="298.5">-</text><text class="c" x="2040.5" y="298.5">有显著性差异</text><text class="c" x="2179" y="298.5">有显著性差异</text>

<!-- note R1 -->
<rect x="1355" y="323" width="893" height="78" fill="#e9edf6"/>
<text class="note" x="1390" y="353.5">使用测试产品28天后，皮肤颜色b*值显著性下降13.82%(P&lt;0.001); L*值显著性上升5.46% (P&lt;0.001);</text>
<text class="note" x="1390" y="377">ITA*值显著性上升22.51%(P&lt;0.001)。以上说明，连续使用测试产品28天后，具有祛黄及亮白效果。</text>

<!-- ============ 鱼尾纹 chart ============ -->
<rect x="1355.5" y="462.5" width="301" height="200" rx="6" fill="none" stroke="#cfe0ea" stroke-dasharray="2 2"/>
<text class="ct" x="1525" y="478">VISIA_鱼尾纹面积数据时间点对比结果</text>
<g stroke="#efefef"><line x1="1404" y1="487" x2="1648" y2="487"/><line x1="1404" y1="501.4" x2="1648" y2="501.4"/><line x1="1404" y1="515.9" x2="1648" y2="515.9"/><line x1="1404" y1="530.3" x2="1648" y2="530.3"/><line x1="1404" y1="544.8" x2="1648" y2="544.8"/><line x1="1404" y1="559.2" x2="1648" y2="559.2"/><line x1="1404" y1="573.7" x2="1648" y2="573.7"/><line x1="1404" y1="588.1" x2="1648" y2="588.1"/><line x1="1404" y1="602.6" x2="1648" y2="602.6"/></g>
<line x1="1404" y1="617" x2="1648" y2="617" stroke="#d9d9d9"/>
<text class="ax" x="1396" y="490.5">18.00</text><text class="ax" x="1396" y="505">16.00</text><text class="ax" x="1396" y="519.4">14.00</text><text class="ax" x="1396" y="533.8">12.00</text><text class="ax" x="1396" y="548.3">10.00</text><text class="ax" x="1396" y="562.7">8.00</text><text class="ax" x="1396" y="577.2">6.00</text><text class="ax" x="1396" y="591.6">4.00</text><text class="ax" x="1396" y="606.1">2.00</text><text class="ax" x="1396" y="620.5">0.00</text>
<g fill="#2e75b6"><rect x="1448" y="521.8" width="36" height="95.2"/><rect x="1576" y="544.9" width="36" height="72.1"/></g>
<g stroke="#444" stroke-width="1"><line x1="1466" y1="501.7" x2="1466" y2="541.9"/><line x1="1463" y1="501.7" x2="1469" y2="501.7"/><line x1="1594" y1="531" x2="1594" y2="558.8"/><line x1="1591" y1="531" x2="1597" y2="531"/></g>
<text class="st" x="1594" y="511">***</text>
<text class="xl" x="1466" y="634">使用前</text><text class="xl" x="1594" y="634">使用28天后</text>
<rect x="1497" y="650" width="7" height="7" fill="#2e75b6"/><text class="lg" x="1507" y="658">试验品</text>

<!-- TABLE R2 -->
<text class="cap" x="1959" y="472">VISIA_鱼尾纹面积数据使用前后对照(均值±标准差)</text>
<rect x="1661" y="479" width="585" height="51" fill="#5b89c6"/>
<rect x="1661" y="530" width="585" height="33" fill="#d6dff0"/><rect x="1661" y="563" width="585" height="34" fill="#e8ecf6"/><rect x="1661" y="597" width="585" height="33" fill="#d6dff0"/><rect x="1661" y="630" width="585" height="33" fill="#e8ecf6"/>
<g fill="#fff"><rect x="1861.5" y="479" width="3" height="184"/><rect x="2065.5" y="479" width="3" height="184"/></g>
<line x1="1662" y1="480" x2="1862" y2="530" stroke="#fff" stroke-width="2"/>
<text class="ht" x="1855" y="500.5">测试时间</text><text class="hq" x="1672" y="519">区域</text>
<text class="hd" x="1965" y="512">D0</text><text class="hd" x="2156.5" y="512">D28</text>
<text class="c" x="1762" y="552">平均值</text><text class="c" x="1965" y="552">13.18±2.79</text><text class="c" x="2156.5" y="552">9.99±1.92</text>
<text class="c" x="1762" y="585.5">变化率</text><text class="c" x="1965" y="585.5">-</text><text class="c" x="2156.5" y="585.5">-24.14%***</text>
<text class="c" x="1762" y="619">P值</text><text class="c" x="1965" y="619">-</text><text class="c" x="2156.5" y="619">0.000</text>
<text class="c" x="1762" y="652">显著性</text><text class="c" x="1965" y="652">-</text><text class="c" x="2156.5" y="652">有显著性差异</text>

<!-- note R2 -->
<rect x="1355" y="675" width="893" height="52" fill="#e9edf6"/>
<text class="note" x="1390" y="707.5">对比使用前，鱼尾纹面积在使用产品后，4周后显著性下降24.14%(P&lt;0.001)</text>

<!-- ============ PHOTOS ============ -->
<path d="M1356,820 H1799 V842 Q1799,860 1781,860 H1374 Q1356,860 1356,842 Z" fill="#e4eaf6"/>
<path d="M1806,820 H2248 V842 Q2248,860 2230,860 H1824 Q1806,860 1806,842 Z" fill="#e4eaf6"/>
<path d="M1356,976 H1799 V997 Q1799,1015 1781,1015 H1374 Q1356,1015 1356,997 Z" fill="#e4eaf6"/>

<svg x="1369" y="738" width="201" height="100">
<rect width="201" height="100" fill="url(#skA)"/>
<ellipse cx="70" cy="40" rx="80" ry="30" fill="#f6e3d6" opacity="0.5"/>
<ellipse cx="60" cy="68" rx="75" ry="14" fill="url(#shade)"/>
<ellipse cx="45" cy="72" rx="70" ry="8" fill="url(#eye)"/>
<path d="M0,78 Q60,64 110,66" stroke="#6a4640" stroke-width="2.5" fill="none" opacity="0.7"/>
<circle cx="170" cy="30" r="2" fill="#d49a7c"/><circle cx="140" cy="85" r="2" fill="#d49a7c"/>
</svg>
<svg x="1581" y="738" width="197" height="100">
<rect width="197" height="100" fill="url(#skA)"/>
<ellipse cx="70" cy="40" rx="80" ry="30" fill="#f6e3d6" opacity="0.5"/>
<ellipse cx="55" cy="66" rx="70" ry="13" fill="url(#shade)"/>
<ellipse cx="40" cy="70" rx="65" ry="7" fill="url(#eye)"/>
<path d="M0,76 Q55,64 105,65" stroke="#6a4640" stroke-width="2.5" fill="none" opacity="0.7"/>
<circle cx="100" cy="25" r="2" fill="#d49a7c"/><circle cx="60" cy="90" r="2" fill="#d49a7c"/>
</svg>
<svg x="1821" y="739" width="196" height="98">
<rect width="196" height="98" fill="url(#skB)"/>
<ellipse cx="120" cy="40" rx="90" ry="35" fill="#f1dbd2" opacity="0.5"/>
<ellipse cx="20" cy="60" rx="40" ry="14" fill="url(#shade)"/>
<ellipse cx="8" cy="62" rx="22" ry="7" fill="url(#eye)"/>
</svg>
<svg x="2030" y="739" width="197" height="98">
<rect width="197" height="98" fill="url(#skB)"/>
<ellipse cx="120" cy="40" rx="90" ry="35" fill="#f1dbd2" opacity="0.5"/>
<ellipse cx="20" cy="58" rx="40" ry="14" fill="url(#shade)"/>
<ellipse cx="8" cy="60" rx="22" ry="7" fill="url(#eye)"/>
</svg>
<svg x="1371" y="893" width="199" height="100">
<rect width="199" height="100" fill="url(#skB)"/>
<ellipse cx="80" cy="45" rx="90" ry="25" fill="#d9a898" opacity="0.35"/>
<ellipse cx="50" cy="62" rx="80" ry="16" fill="url(#shade)"/>
<ellipse cx="30" cy="62" rx="65" ry="11" fill="url(#eye)"/>
<path d="M0,58 Q50,62 95,66" stroke="#3b2a28" stroke-width="3" fill="none" opacity="0.8"/>
</svg>
<svg x="1579" y="893" width="200" height="100">
<rect width="200" height="100" fill="url(#skB)"/>
<ellipse cx="80" cy="35" rx="90" ry="22" fill="#f3e0d8" opacity="0.5"/>
<ellipse cx="50" cy="62" rx="75" ry="15" fill="url(#shade)"/>
<ellipse cx="28" cy="62" rx="60" ry="10" fill="url(#eye)"/>
<path d="M0,60 Q50,62 90,66" stroke="#3b2a28" stroke-width="3" fill="none" opacity="0.8"/>
</svg>

<g fill="#fff">
<rect x="1433" y="827" width="81" height="20" rx="10"/><rect x="1641" y="827" width="81" height="20" rx="10"/>
<rect x="1882" y="827" width="81" height="20" rx="10"/><rect x="2090" y="827" width="81" height="20" rx="10"/>
<rect x="1433" y="983" width="81" height="19" rx="9.5"/><rect x="1641" y="983" width="81" height="19" rx="9.5"/>
</g>
<text class="pill" x="1473.5" y="841.5">使用前</text><text class="pill" x="1681.5" y="841.5">使用后</text>
<text class="pill" x="1922.5" y="841.5">使用前</text><text class="pill" x="2130.5" y="841.5">使用后</text>
<text class="pill" x="1473.5" y="997">使用前</text><text class="pill" x="1681.5" y="997">使用后</text>

<!-- banners -->
<polygon points="1586,866 1770,866 1778,875.5 1770,885 1586,885 1596,875.5" fill="#dde5f4"/>
<polygon points="1371,866 1586,866 1596,875.5 1586,885 1371,885" fill="#a0b6dc"/>
<text class="bn" x="1474" y="880" fill="#fff">未使用产品前</text><text class="bn" x="1676" y="880" fill="#4b7cc4">使用产品28天后</text>
<polygon points="2040,866 2218,866 2226,875.5 2218,885 2040,885 2050,875.5" fill="#dde5f4"/>
<polygon points="1821,866 2040,866 2050,875.5 2040,885 1821,885" fill="#a0b6dc"/>
<text class="bn" x="1924" y="880" fill="#fff">未使用产品前</text><text class="bn" x="2125" y="880" fill="#4b7cc4">使用产品28天后</text>
<polygon points="1586,1021 1770,1021 1778,1031 1770,1041 1586,1041 1596,1031" fill="#dde5f4"/>
<polygon points="1371,1021 1586,1021 1596,1031 1586,1041 1371,1041" fill="#a0b6dc"/>
<text class="bn" x="1474" y="1035.5" fill="#fff">未使用产品前</text><text class="bn" x="1676" y="1035.5" fill="#4b7cc4">使用产品28天后</text>

<!-- ============ 全脸 chart ============ -->
<rect x="1355.5" y="1101.5" width="301" height="201" rx="6" fill="none" stroke="#cfe0ea" stroke-dasharray="2 2"/>
<text class="ct" x="1523" y="1117">VISIA_全脸纹理面积占比数据时间点对比结果</text>
<g stroke="#efefef"><line x1="1396" y1="1119" x2="1648" y2="1119"/><line x1="1396" y1="1133.8" x2="1648" y2="1133.8"/><line x1="1396" y1="1148.6" x2="1648" y2="1148.6"/><line x1="1396" y1="1163.3" x2="1648" y2="1163.3"/><line x1="1396" y1="1178.1" x2="1648" y2="1178.1"/><line x1="1396" y1="1192.9" x2="1648" y2="1192.9"/><line x1="1396" y1="1207.7" x2="1648" y2="1207.7"/><line x1="1396" y1="1222.4" x2="1648" y2="1222.4"/><line x1="1396" y1="1237.2" x2="1648" y2="1237.2"/></g>
<line x1="1396" y1="1252" x2="1648" y2="1252" stroke="#d9d9d9"/>
<text class="ax" x="1388" y="1122.5">18.00</text><text class="ax" x="1388" y="1137.3">16.00</text><text class="ax" x="1388" y="1152.1">14.00</text><text class="ax" x="1388" y="1166.8">12.00</text><text class="ax" x="1388" y="1181.6">10.00</text><text class="ax" x="1388" y="1196.4">8.00</text><text class="ax" x="1388" y="1211.2">6.00</text><text class="ax" x="1388" y="1225.9">4.00</text><text class="ax" x="1388" y="1240.7">2.00</text><text class="ax" x="1388" y="1255.5">0.00</text>
<g fill="#2e75b6"><rect x="1441" y="1149.9" width="38" height="102.1"/><rect x="1570" y="1165.7" width="38" height="86.3"/></g>
<g stroke="#444" stroke-width="1"><line x1="1460" y1="1133.9" x2="1460" y2="1165.9"/><line x1="1457" y1="1133.9" x2="1463" y2="1133.9"/><line x1="1589" y1="1148.7" x2="1589" y2="1182.7"/><line x1="1586" y1="1148.7" x2="1592" y2="1148.7"/></g>
<text class="st" x="1589" y="1145">***</text>
<text class="xl" x="1460" y="1270">使用前</text><text class="xl" x="1589" y="1270">使用28天后</text>
<rect x="1489" y="1287" width="7" height="7" fill="#2e75b6"/><text class="lg" x="1499" y="1295">试验品</text>

<!-- TABLE R3 -->
<text class="cap" x="2003" y="1109">VISIA_全脸纹理面积占比数据使用前后对照(均值±标准差)</text>
<rect x="1661" y="1118" width="585" height="50" fill="#5b89c6"/>
<rect x="1661" y="1168" width="585" height="34" fill="#d6dff0"/><rect x="1661" y="1202" width="585" height="34" fill="#e8ecf6"/><rect x="1661" y="1236" width="585" height="33" fill="#d6dff0"/><rect x="1661" y="1269" width="585" height="33" fill="#e8ecf6"/>
<g fill="#fff"><rect x="1861.5" y="1118" width="3" height="184"/><rect x="2066.5" y="1118" width="3" height="184"/></g>
<line x1="1662" y1="1119" x2="1862" y2="1168" stroke="#fff" stroke-width="2"/>
<text class="ht" x="1855" y="1139.5">测试时间</text><text class="hq" x="1672" y="1158">区域</text>
<text class="hd" x="1965.5" y="1150.5">D0</text><text class="hd" x="2157" y="1150.5">D28</text>
<text class="c" x="1762" y="1190.5">平均值</text><text class="c" x="1965.5" y="1190.5">13.82%±2.17</text><text class="c" x="2157" y="1190.5">11.68%±2.30</text>
<text class="c" x="1762" y="1224.5">变化率</text><text class="c" x="1965.5" y="1224.5">-</text><text class="c" x="2157" y="1224.5">-15.49%***</text>
<text class="c" x="1762" y="1258">P值</text><text class="c" x="1965.5" y="1258">-</text><text class="c" x="2157" y="1258">0.000</text>
<text class="c" x="1762" y="1291">显著性</text><text class="c" x="1965.5" y="1291">-</text><text class="c" x="2157" y="1291">有显著性差异</text>

<!-- note R3 -->
<rect x="1355" y="1314" width="893" height="51" fill="#e9edf6"/>
<text class="note" x="1390" y="1346.5">对比使用前，全脸纹理面积占比在使用产品4周后下降15.49% (P&lt;0.001)</text>
</g>
</svg>
</body></html>
